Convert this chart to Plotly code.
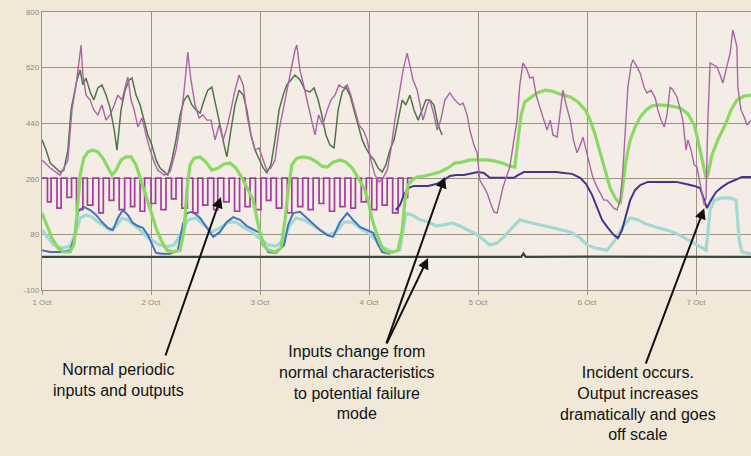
import pandas as pd
import plotly.graph_objects as go

BASE = pd.Timestamp("2008-10-01")

# ---- data (hours since 1 Oct 00:00, values) ----
input_a_h = [0, 0.9, 1.8, 2.9, 4.0, 4.8, 5.7, 6.4, 7.0, 7.7, 8.4, 9.0, 9.7, 10.6, 11.4, 12.3, 13.2, 14.1, 15.0, 15.9,
             16.5, 17.4, 18.3, 19.2, 19.8, 20.7, 21.6, 22.5, 23.3, 24.2, 25.1, 26.0, 26.9, 27.7,
             28.6, 29.5, 30.4, 31.3, 32.1, 33.0, 33.9, 34.8, 35.7, 36.5, 37.4, 38.3, 39.2, 40.1, 40.7, 41.6, 42.5,
             43.4, 44.3, 45.1, 46.0, 46.9, 47.8, 48.7, 49.5, 50.4,
             51.3, 52.2, 53.1, 53.9, 54.8, 55.7, 56.8, 57.9, 59.0, 59.9, 60.8, 61.6, 62.5, 63.4, 64.3, 65.2, 66.1,
             66.9, 67.8, 68.7, 69.6, 70.5, 71.3, 72.2, 73.1, 74.0, 74.9,
             75.7, 76.6, 77.5, 78.4, 79.3, 80.1, 81.0, 81.9, 82.8, 83.7, 84.5, 85.4, 86.3, 87.2, 88.1]
input_a_v = [386, 353, 311, 295, 282, 288, 353, 483, 531, 580, 612, 564, 586, 541, 515, 554, 564, 531, 489, 418,
             353, 483, 547, 580, 586, 531, 499, 450, 402, 369, 321, 295, 282, 272,
             321, 386, 467, 515, 531, 499, 483, 473, 515, 547, 557, 499, 434, 369, 331, 418, 499,
             547, 531, 483, 402, 353, 321, 295, 279, 305,
             386, 483, 531, 564, 580, 596, 580, 547, 541, 554, 515, 467, 402, 369, 360, 483, 541,
             557, 531, 483, 434, 386, 360, 337, 321, 295, 282,
             305, 353, 386, 450, 515, 499, 531, 483, 450, 483, 515, 515, 499, 434, 402]

input_b_h = [0, 1.8, 4.0, 5.7, 6.6, 7.5, 8.2, 8.6, 9.0, 9.7, 10.6, 11.4, 12.3, 13.2, 14.1, 15.0, 15.9, 16.7, 17.6,
             18.5, 18.9, 19.6, 20.3, 21.1, 22.0, 22.9, 23.8, 24.7, 25.5, 26.9, 28.2, 29.5, 30.4, 31.3, 32.1,
             32.8, 33.7, 34.6, 35.4, 36.3, 37.2, 38.1, 39.0, 39.9, 40.7, 41.6, 42.5, 43.4, 44.3, 45.1, 46.0,
             46.9, 47.8, 48.7, 49.5, 50.4, 51.3, 52.2, 53.1, 53.9, 54.8, 55.7, 56.1, 56.8, 57.5, 58.3, 59.2,
             60.1, 60.9, 61.8, 62.8, 63.6, 64.5, 65.4, 66.3, 67.2, 68.0, 68.9, 69.8, 70.7, 71.6, 72.4, 73.3,
             74.2, 75.1, 76.0, 76.8, 77.7, 78.6, 79.5, 80.4, 81.0, 81.7, 82.6, 83.2, 83.9, 84.8, 85.4, 86.3,
             87.0, 87.8, 88.7, 89.8, 90.9, 92.0, 92.7, 93.6, 94.2, 95.1, 95.8, 96.4, 97.3, 98.0, 98.9, 99.5,
             100.2, 100.8, 101.5, 102.4, 103.0, 103.9, 104.6, 105.2, 105.9, 106.8, 107.4, 108.1, 108.8, 109.6,
             110.5, 111.2, 111.9, 112.5, 113.4, 114.1, 114.7, 115.4, 116.3, 117.0, 117.8, 118.5, 119.1, 119.8,
             120.7, 121.3, 122.2, 123.1, 123.7, 124.4, 125.3, 125.9, 126.6, 127.3, 127.9, 128.6, 129.0, 129.7,
             130.1, 130.8, 131.7, 132.6, 133.2, 134.1, 135.0, 135.6, 136.3, 137.0, 137.6, 138.3, 138.9, 139.8,
             140.5, 141.1, 141.8, 142.2, 142.9, 143.6, 144.2, 144.9, 145.3, 145.8, 146.2, 146.6, 147.1, 148.0,
             148.6, 149.3, 149.9, 150.6, 151.5, 152.1, 152.6, 153.0, 153.2, 153.9, 154.6, 155.2, 156.1]
input_b_v = [321, 295, 272, 321, 483, 564, 645, 693, 596, 531, 515, 483, 467, 499, 450, 467, 499, 531, 515,
             564, 590, 515, 483, 428, 457, 402, 353, 314, 288, 272, 282, 353, 434, 547, 670,
             580, 499, 457, 467, 450, 450, 386, 434, 386, 425, 483, 547, 596, 564, 467, 402,
             353, 360, 321, 288, 295, 321, 418, 483, 547, 612, 677, 693, 612, 570, 515, 457,
             402, 467, 434, 483, 515, 531, 564, 554, 564, 531, 483, 434, 418, 386, 321, 272,
             250, 263, 288, 353, 450, 531, 612, 667, 628, 580, 547, 499, 450, 499, 515, 467,
             418, 450, 515, 538, 515, 499, 505, 467, 418, 369, 344, 256, 230, 214, 175, 153,
             149, 191, 233, 272, 298, 386, 450, 564, 635, 612, 586, 590, 531, 492,
             450, 418, 450, 402, 395, 483, 547, 499, 450, 386, 344, 369, 395, 353,
             298, 263, 233, 208, 191, 191, 175, 165, 159, 191, 288, 450, 557, 628,
             645, 628, 602, 554, 538, 547, 522, 483, 450, 428, 467, 557, 547, 525,
             483, 450, 353, 386, 353, 305, 298, 240, 214, 175, 198, 450, 635, 628,
             622, 596, 570, 612, 667, 742, 716, 687, 557, 483, 460, 434, 450]

square_h = [0, 1.2, 2.0, 3.3, 4.2, 5.5, 6.5, 7.6, 9.0, 10.0, 11.2, 12.5, 13.5, 14.8, 15.8, 17.0, 18.2, 19.5, 20.4,
            21.6, 22.6, 24.0, 25.0, 26.2, 27.3, 28.5, 29.5, 30.8, 32.0, 33.2, 34.3, 35.4, 36.5, 37.8, 38.7, 40.0,
            41.2, 42.4, 43.5, 44.7, 45.8, 47.0, 48.2, 49.4, 50.4, 51.6, 52.8, 54.0, 55.0, 56.3, 57.4, 58.6, 59.7,
            61.0, 62.0, 63.3, 64.4, 65.6, 66.7, 68.0, 69.0, 70.3, 71.4, 72.6, 73.7, 74.9, 76.0, 77.2, 78.4, 79.5,
            80.5, 81.8]
square_v = [262, 185, 262, 165, 262, 200, 262, 160, 262, 175, 262, 150, 262, 190, 262, 160, 262, 170, 262,
            155, 262, 180, 262, 160, 262, 195, 262, 165, 262, 150, 262, 175, 262, 160, 262, 185,
            262, 155, 262, 170, 262, 160, 262, 190, 262, 165, 262, 150, 262, 170, 262, 160, 262,
            180, 262, 155, 262, 170, 262, 165, 262, 185, 262, 160, 262, 175, 262, 150, 262, 200,
            262, 262]

blue_h = [0, 1.8, 4.0, 6.2, 7.3, 7.9, 9.2, 10.6, 11.9, 13.2, 14.5, 15.6, 16.7, 17.8, 18.9, 20.0, 21.1, 22.2, 23.3,
          24.2, 25.1, 26.4, 28.2, 29.9, 31.0, 31.9, 33.2, 34.8, 36.3, 37.7, 39.2, 40.7, 42.1, 43.6, 45.1, 46.7,
          48.0, 48.9, 49.8, 51.5, 53.3, 54.2, 55.3, 56.8, 58.3, 59.9, 61.2, 62.8, 64.1, 65.6, 67.2, 68.5, 70.0,
          71.6, 72.9, 74.0, 74.9, 76.6]
blue_v = [29, 23, 23, 29, 78, 153, 169, 159, 143, 120, 101, 94, 133, 159, 143, 117, 107, 101, 78,
          46, 20, 17, 17, 29, 111, 149, 153, 133, 101, 72, 88, 120, 136, 127, 107, 94,
          85, 46, 23, 20, 46, 111, 149, 153, 133, 111, 94, 78, 72, 120, 149, 127, 104,
          94, 85, 46, 23, 17]

cyan_h = [0, 1.3, 2.6, 4.4, 6.2, 7.5, 8.4, 9.7, 11.0, 12.3, 13.7, 15.0, 16.3, 17.6, 18.9, 20.3, 21.6, 22.9, 24.2,
          25.5, 27.3, 29.1, 30.8, 32.1, 33.9, 35.7, 37.4, 39.2, 41.0, 42.7, 44.5, 46.2, 48.0, 49.8, 51.5, 53.3,
          54.6, 55.9, 57.7, 59.4, 61.2, 63.0, 64.7, 66.5, 68.3, 70.0, 71.8, 73.5, 75.3, 77.1, 78.8, 79.7, 80.1,
          81.5, 83.2, 85.0, 86.8, 88.5, 90.3, 92.0, 93.8, 95.6, 97.3, 98.6, 100.2, 101.7, 103.5, 105.2, 107.0,
          108.8, 110.5, 112.3, 114.1, 116.3, 118.5, 120.0, 121.8, 124.4, 126.2, 127.7, 129.5, 131.2, 133.0,
          135.0, 137.6, 139.4, 141.1, 143.1, 144.9, 146.2, 147.1, 148.0, 149.7, 151.5, 152.8, 153.5, 154.1, 156.1]
cyan_v = [94, 68, 46, 36, 42, 88, 133, 143, 136, 120, 107, 94, 107, 133, 127, 111, 94, 75, 62,
          49, 39, 46, 88, 127, 133, 111, 88, 101, 120, 120, 101, 88, 68, 46, 42, 62,
          111, 133, 127, 111, 94, 78, 88, 120, 120, 101, 85, 62, 36, 23, 29, 111, 149,
          143, 127, 120, 107, 111, 117, 107, 94, 81, 62, 46, 52, 72, 101, 127, 120,
          114, 107, 101, 94, 88, 68, 46, 36, 29, 62, 101, 133, 127, 114,
          104, 94, 85, 72, 55, 39, 29, 159, 191, 198, 198, 191, 62, 23, 17]

output_h = [0, 1.1, 2.2, 3.5, 4.8, 6.2, 7.0, 7.7, 8.4, 9.2, 10.1, 11.2, 12.3, 13.4, 14.5, 15.4, 16.3, 17.4, 18.5,
            19.6, 20.7, 21.8, 22.9, 24.0, 25.1, 26.2, 27.5, 28.8, 30.4, 31.3, 31.9, 32.6, 33.5, 34.8, 36.1, 37.4,
            38.8, 40.1, 41.4, 42.7, 44.0, 45.4, 46.5, 47.6, 48.7, 49.8, 51.3, 52.6, 53.5, 54.2, 55.0, 56.1, 57.5,
            59.0, 60.5, 61.6, 62.8, 64.1, 65.6, 66.9, 68.3, 69.6, 70.9, 71.8, 72.7, 73.8, 74.9, 76.0, 77.3, 78.4,
            79.3, 79.9, 80.6, 81.5, 82.6, 84.3, 85.9, 87.6, 89.4, 90.9, 92.5, 94.2, 96.0, 97.8, 99.5, 101.3,
            103.0, 104.1, 104.8, 105.5, 106.3, 107.4, 109.0, 110.7, 112.3, 114.1, 116.3, 118.0, 119.6, 120.7,
            121.8, 122.9, 124.0, 125.1, 126.2, 127.3, 127.9, 128.6, 129.5, 130.6, 131.7, 133.0, 134.3, 136.1,
            138.3, 140.5, 142.2, 143.6, 144.4, 145.3, 146.2, 146.6, 147.5, 148.8, 150.4, 151.7, 153.0, 154.6, 156.1]
output_v = [149, 111, 68, 36, 23, 23, 46, 143, 272, 327, 347, 353, 347, 327, 295, 272, 288, 321, 331,
            331, 305, 256, 208, 153, 101, 62, 29, 23, 29, 94, 224, 305, 327, 331, 314, 288,
            295, 308, 311, 295, 263, 224, 191, 111, 46, 29, 23, 36, 127, 224, 305, 327, 331,
            327, 314, 301, 298, 314, 321, 314, 295, 263, 230, 191, 127, 78, 36, 23, 23, 29,
            94, 191, 240, 256, 266, 269, 276, 282, 295, 311, 314, 321, 321, 321, 318, 311,
            301, 298, 386, 467, 509, 522, 538, 547, 544, 534, 525, 509, 483, 450,
            402, 344, 282, 230, 198, 178, 240, 321, 386, 428, 460, 483, 496, 499,
            496, 489, 470, 434, 386, 321, 263, 272, 337, 386, 434, 483, 515, 528, 531]

navy_h = [77.9, 78.8, 79.7, 80.6, 81.9, 83.2, 85.0, 86.8, 88.5, 89.8, 91.2, 92.9, 94.7, 96.0, 97.3, 98.6, 100.4,
          101.7, 103.0, 103.9, 104.8, 106.1, 107.9, 109.6, 111.4, 113.2, 114.9, 116.7, 118.5, 119.8, 121.1,
          122.2, 123.3, 124.6, 125.9, 126.8, 127.7, 128.6, 129.5, 130.6, 131.7, 133.4, 135.2, 137.4, 139.6,
          141.8, 143.6, 144.9, 145.8, 146.4, 147.3, 148.4, 149.7, 151.0, 152.6, 154.1, 156.1]
navy_v = [159, 175, 208, 230, 237, 237, 237, 243, 256, 269, 272, 272, 279, 282, 279, 263, 263,
          263, 263, 263, 272, 282, 282, 282, 282, 282, 279, 276, 263, 243, 208,
          165, 127, 101, 78, 68, 94, 143, 191, 224, 240, 250, 250, 250, 250,
          243, 237, 230, 191, 165, 191, 217, 233, 246, 256, 266, 266]

base_h = [0, 30, 60, 90, 105.5, 106.0, 106.5, 120, 145, 156.1]
base_v = [7, 6, 7, 7, 7, 18, 7, 8, 7, 7]

y_ticks = [-100, 80, 260, 440, 620, 800]

notes = ["Normal periodic<br>inputs and outputs",
         "Inputs change from<br>normal characteristics<br>to potential failure<br>mode",
         "Incident occurs.<br>Output increases<br>dramatically and goes<br>off scale"]


def t(hours):
    return BASE + pd.to_timedelta(hours, unit="h")


fig = go.Figure()


def add(h, v, color, width, shape="linear", opacity=1.0):
    fig.add_trace(go.Scatter(x=t(h), y=v, mode="lines", line=dict(color=color, width=width, shape=shape),
                             opacity=opacity, hoverinfo="skip", showlegend=False))


add(base_h, base_v, "#3c463a", 2.2)
add(cyan_h, cyan_v, "#a3d9d3", 3.2)
add(blue_h, blue_v, "#4272c0", 2.0)
add(square_h, square_v, "#a43c9d", 1.7, shape="hv")
add(navy_h, navy_v, "#46338c", 2.0)
add(output_h, output_v, "#8ad963", 3.2)
add(input_a_h, input_a_v, "#52744a", 1.5)
add(input_b_h, input_b_v, "#aa66a2", 1.4)

grid = "#9d9384"
fig.update_layout(
    width=751, height=456,
    margin=dict(l=42, r=0, t=12, b=166),
    paper_bgcolor="#f2e8d7",
    plot_bgcolor="#f4ede5",
    showlegend=False,
    xaxis=dict(range=[t(0), t(156.1)], tick0=BASE, dtick=86400000, tickformat="%-d %b",
               showgrid=True, gridcolor=grid, gridwidth=1.3, showline=True, linecolor=grid, linewidth=1.3,
               mirror=True, ticks="outside", ticklen=4, tickcolor=grid,
               tickfont=dict(family="Liberation Sans", size=8, color="#958b80"), zeroline=False),
    yaxis=dict(range=[-100, 800], tickvals=y_ticks, ticktext=[str(v) for v in y_ticks],
               showgrid=True, gridcolor=grid, gridwidth=1.3, showline=True, linecolor=grid, linewidth=1.3,
               ticks="", tickfont=dict(family="Liberation Sans", size=8, color="#958b80"), zeroline=False),
)

arrow_style = dict(showarrow=True, arrowhead=2, arrowsize=1.1, arrowwidth=2, arrowcolor="#111111", text="",
                   xref="x", yref="y", axref="pixel", ayref="pixel")
fig.add_annotation(x=t(39.4), y=201, ax=-56, ay=160, **arrow_style)
fig.add_annotation(x=t(88.7), y=266, ax=-59, ay=168, **arrow_style)
fig.add_annotation(x=t(85.0), y=4, ax=-42, ay=87, **arrow_style)
fig.add_annotation(x=t(145.8), y=165, ax=-59, ay=157, **arrow_style)

text_style = dict(showarrow=False, xref="paper", yref="paper", xanchor="center", yanchor="middle",
                  font=dict(family="Liberation Sans, Arial", size=16, color="#111111"), align="center")
fig.add_annotation(text=notes[0], x=(118 - 42) / 709, y=(290 - 380) / 278, **text_style)
fig.add_annotation(text=notes[1], x=(357 - 42) / 709, y=(290 - 382) / 278, **text_style)
fig.add_annotation(text=notes[2], x=(638 - 42) / 709, y=(290 - 403) / 278, **text_style)

fig.write_html("out.html", config={"displayModeBar": False},
               post_script="document.body.style.margin='0';document.body.style.background='#f2e8d7';")
